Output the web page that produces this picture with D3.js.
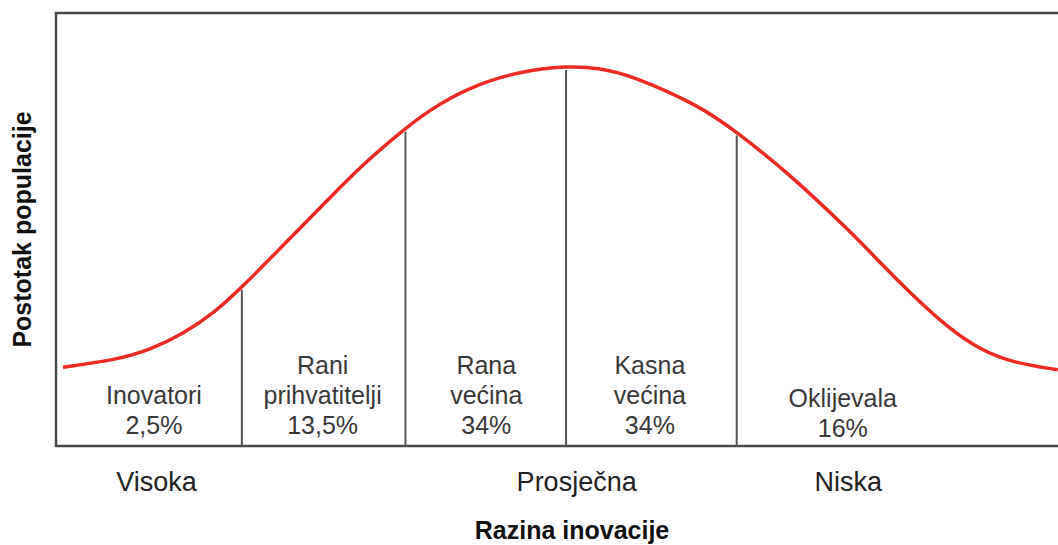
<!DOCTYPE html>
<html>
<head>
<meta charset="utf-8">
<script src="https://cdn.jsdelivr.net/npm/d3@7"></script>
<style>
  html, body { margin: 0; padding: 0; background: #fff; }
  svg { display: block; }
  text { font-family: "Liberation Sans", Arial, sans-serif; }
</style>
</head>
<body>
<svg id="chart" width="1058" height="545"></svg>
<script>
// innovation level (0..100 across the frame) vs. share of population (0..100 of frame height)
const curveX = [0.7, 6.0, 9.3, 12.6, 15.9, 18.4, 20.5, 23.9, 27.1, 30.4, 34.6, 37.0, 40.7, 45.9, 50.6,
  53.9, 57.1, 63.8, 67.4, 72.4, 78.9, 81.6, 84.6, 88.2, 91.5, 94.8, 99.2];
const curveY = [18.2, 19.9, 22.2, 25.9, 31.2, 36.7, 41.6, 49.7, 57.3, 65.1, 73.4, 77.6, 82.7, 86.6, 87.8,
  87.3, 85.5, 78.5, 72.5, 63.3, 49.0, 42.3, 35.3, 27.5, 22.2, 19.2, 17.6];

// group boundaries
const dividers = [18.4, 34.6, 50.5, 67.4];

// adopter groups
const groupNames = [["Inovatori"], ["Rani", "prihvatitelji"], ["Rana", "većina"], ["Kasna", "većina"], ["Oklijevala"]];
const groupShares = ["2,5%", "13,5%", "34%", "34%", "16%"];
const groupCenters = [9.7, 26.4, 42.6, 58.8, 77.9];

// x-axis tick labels
const tickValues = [9.9, 51.5, 78.4];
const tickLabels = ["Visoka", "Prosječna", "Niska"];

const xTitle = "Razina inovacije";
const yTitle = "Postotak populacije";

const svg = d3.select("#chart");
const mLeft = 56, mTop = 13, mBottom = 446, mRight = 1066;

const x = d3.scaleLinear().domain([0, 100]).range([mLeft, mRight]);
const y = d3.scaleLinear().domain([0, 100]).range([mBottom, mTop]);

// frame (right side runs off the picture)
svg.append("rect")
  .attr("x", mLeft).attr("y", mTop)
  .attr("width", mRight + 20 - mLeft).attr("height", mBottom - mTop)
  .attr("fill", "none")
  .attr("stroke", "#4a4a4a")
  .attr("stroke-width", 2.5);

const pts = curveX.map((d, i) => [d, curveY[i]]);
const line = d3.line()
  .x(d => x(d[0]))
  .y(d => y(d[1]))
  .curve(d3.curveBasis);

const path = svg.append("path")
  .datum(pts)
  .attr("fill", "none")
  .attr("stroke", "#ee2a24")
  .attr("stroke-width", 3.5)
  .attr("d", line);

// find the curve height above each divider
const node = path.node();
const total = node.getTotalLength();
function curveAt(px) {
  let lo = 0, hi = total;
  for (let k = 0; k < 40; k++) {
    const mid = (lo + hi) / 2;
    if (node.getPointAtLength(mid).x < px) lo = mid; else hi = mid;
  }
  return node.getPointAtLength(lo).y;
}

svg.append("g")
  .selectAll("line")
  .data(dividers)
  .join("line")
  .attr("x1", d => x(d)).attr("x2", d => x(d))
  .attr("y1", d => curveAt(x(d)) + 3)
  .attr("y2", mBottom)
  .attr("stroke", "#555")
  .attr("stroke-width", 2);

// group labels, stacked up from the bottom
const lh = 30;
const groups = svg.append("g")
  .attr("font-size", 25)
  .attr("fill", "#383838")
  .attr("text-anchor", "middle");

groupNames.forEach((names, i) => {
  const lines = names.concat([groupShares[i]]);
  const base = i === 4 ? mBottom - 9 : mBottom - 12;
  lines.forEach((t, j) => {
    groups.append("text")
      .attr("x", x(groupCenters[i]))
      .attr("y", base - (lines.length - 1 - j) * lh)
      .text(t);
  });
});

// bottom axis
const xAxis = d3.axisBottom(x)
  .tickValues(tickValues)
  .tickFormat((d, i) => tickLabels[i])
  .tickSize(0)
  .tickPadding(0);

const ax = svg.append("g")
  .attr("transform", `translate(0,${mBottom})`)
  .call(xAxis);
ax.select(".domain").remove();
ax.selectAll("text")
  .attr("font-family", "Liberation Sans, Arial, sans-serif")
  .attr("font-size", 27)
  .attr("fill", "#222")
  .attr("dy", null)
  .attr("y", 45);

// titles
svg.append("text")
  .attr("x", 572)
  .attr("y", 539)
  .attr("text-anchor", "middle")
  .attr("font-size", 25)
  .attr("font-weight", "bold")
  .attr("fill", "#111")
  .text(xTitle);

svg.append("text")
  .attr("transform", `translate(31,${(mTop + mBottom) / 2 + 0}) rotate(-90)`)
  .attr("text-anchor", "middle")
  .attr("font-size", 25)
  .attr("font-weight", "bold")
  .attr("fill", "#111")
  .text(yTitle);
</script>
</body>
</html>
